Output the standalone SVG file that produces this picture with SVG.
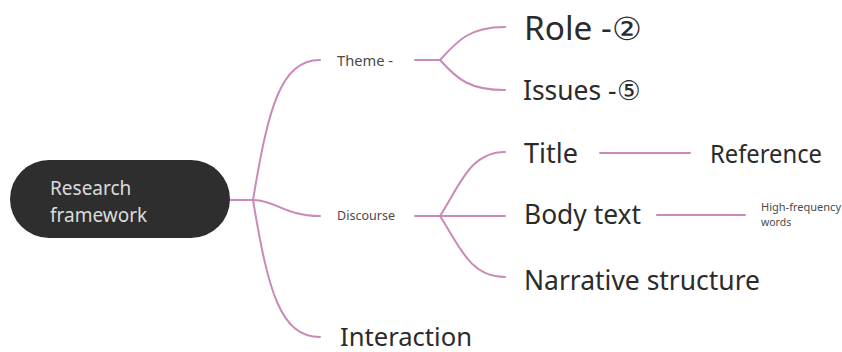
<svg xmlns="http://www.w3.org/2000/svg" width="842" height="352" viewBox="0 0 842 352">
<style>
.c{fill:none;stroke:#c98ab9;stroke-width:2;stroke-linecap:round}
text{font-family:"Noto Sans","Open Sans",sans-serif;fill:#2b2b2b}
.s{fill:#4a4a4a}
.r{fill:#dcdcdc}
</style>
<rect width="842" height="352" fill="#fff"/>
<g id="connectors">
<path class="c" d="M230,200 L253,200"/>
<path class="c" d="M253,200 C268,110 280,60 320,60"/>
<path class="c" d="M253,200 C275,200 285,216 320,216"/>
<path class="c" d="M253,200 C268,290 280,337 320,337"/>
<path class="c" d="M415,60 L440,60"/>
<path class="c" d="M440,60 C458,40 470,27 505,27"/>
<path class="c" d="M440,60 C458,80 470,90 505,90"/>
<path class="c" d="M415,216 L505,216"/>
<path class="c" d="M440,216 C460,185 470,152 505,152"/>
<path class="c" d="M440,216 C460,247 470,277 505,277"/>
<path class="c" d="M600,153 L690,153"/>
<path class="c" d="M657,215 L745,215"/>
</g>
<g id="root">
<rect x="10" y="160" width="220" height="78" rx="39" fill="#2e2e2e"/>
<text class="r" x="50" y="195" font-size="19">Research</text>
<text class="r" x="50" y="222" font-size="19">framework</text>
</g>
<g id="theme"><text class="s" x="337" y="66" font-size="14" textLength="56" lengthAdjust="spacingAndGlyphs">Theme -</text></g>
<g id="role"><text x="524" y="40" font-size="32" textLength="118" lengthAdjust="spacingAndGlyphs">Role -②</text></g>
<g id="issues"><text x="523" y="100" font-size="27" textLength="117" lengthAdjust="spacingAndGlyphs">Issues -⑤</text></g>
<g id="discourse"><text class="s" x="337" y="220" font-size="12.5" textLength="58" lengthAdjust="spacingAndGlyphs">Discourse</text></g>
<g id="title"><text x="524" y="163" font-size="26.5" textLength="54" lengthAdjust="spacingAndGlyphs">Title</text></g>
<g id="reference"><text x="710" y="163" font-size="26" textLength="112" lengthAdjust="spacingAndGlyphs">Reference</text></g>
<g id="body"><text x="524" y="224" font-size="26.5" textLength="117" lengthAdjust="spacingAndGlyphs">Body text</text></g>
<g id="hf"><text class="s" x="761" y="211" font-size="10.5" textLength="80" lengthAdjust="spacingAndGlyphs">High-frequency</text><text class="s" x="761" y="226" font-size="10.5">words</text></g>
<g id="narrative"><text x="524" y="290" font-size="26.5" textLength="236" lengthAdjust="spacingAndGlyphs">Narrative structure</text></g>
<g id="interaction"><text x="340" y="346" font-size="24.5" textLength="132" lengthAdjust="spacingAndGlyphs">Interaction</text></g>
</svg>
